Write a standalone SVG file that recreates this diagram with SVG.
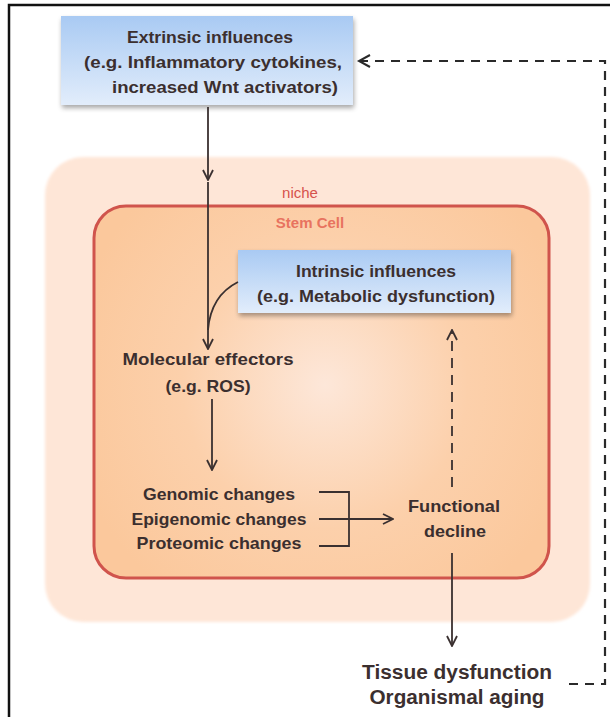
<svg xmlns="http://www.w3.org/2000/svg" width="610" height="717" viewBox="0 0 610 717">
<defs>
<linearGradient id="blue" x1="0" y1="0" x2="0" y2="1">
<stop offset="0" stop-color="#a9caf3"/>
<stop offset="1" stop-color="#e2edfb"/>
</linearGradient>
<radialGradient id="cell" cx="325" cy="385" r="260" gradientUnits="userSpaceOnUse">
<stop offset="0" stop-color="#fde7d9"/>
<stop offset="0.55" stop-color="#fcd0ab"/>
<stop offset="1" stop-color="#fbc89c"/>
</radialGradient>
<filter id="sh" x="-10%" y="-10%" width="130%" height="140%">
<feGaussianBlur in="SourceAlpha" stdDeviation="2.5"/>
<feOffset dx="1" dy="3"/>
<feComponentTransfer><feFuncA type="linear" slope="0.35"/></feComponentTransfer>
<feMerge><feMergeNode/><feMergeNode in="SourceGraphic"/></feMerge>
</filter>
<filter id="soft"><feGaussianBlur stdDeviation="1.5"/></filter>
<marker id="ah" viewBox="0 0 12 12" refX="11" refY="6" markerWidth="12" markerHeight="12" markerUnits="userSpaceOnUse" orient="auto">
<path d="M1,1 L11,6 L1,11" fill="none" stroke="#3a3030" stroke-width="1.8"/>
</marker>
</defs>
<style>
text{font-family:"Liberation Sans",Arial,sans-serif;font-weight:bold;fill:#3b2f2f;text-anchor:middle}
.t{font-size:16.5px}
.big{font-size:20px}
.red{fill:#d6524c;font-size:15px;font-weight:normal}
.salmon{fill:#e8735f;font-size:15px}
.ln{fill:none;stroke:#3a3030;stroke-width:1.8}
.dash{fill:none;stroke:#2a2a2a;stroke-width:2.2;stroke-dasharray:9,7}
</style>
<rect width="610" height="717" fill="#ffffff"/>
<path d="M9,717 L9,5 L610,5" fill="none" stroke="#111" stroke-width="2.5"/>

<g id="niche">
<rect x="45" y="157" width="545" height="465" rx="38" fill="#fee6d7" filter="url(#soft)"/>
<text class="red" x="300" y="198">niche</text>
</g>

<g id="stemcell">
<rect x="94" y="206" width="455" height="372" rx="32" fill="url(#cell)" stroke="#d0544c" stroke-width="3"/>
<text class="salmon" x="310" y="228">Stem Cell</text>
</g>

<g id="extrinsic">
<rect x="61" y="16" width="292" height="89" fill="url(#blue)" filter="url(#sh)"/>
<text class="t" x="210" y="43" textLength="166" lengthAdjust="spacingAndGlyphs">Extrinsic influences</text>
<text class="t" x="213" y="68" textLength="258" lengthAdjust="spacingAndGlyphs">(e.g. Inflammatory cytokines,</text>
<text class="t" x="225" y="93" textLength="226" lengthAdjust="spacingAndGlyphs">increased Wnt activators)</text>
</g>

<g id="intrinsic">
<rect x="238" y="250" width="273" height="63" fill="url(#blue)" filter="url(#sh)"/>
<text class="t" x="376" y="277" textLength="160" lengthAdjust="spacingAndGlyphs">Intrinsic influences</text>
<text class="t" x="376" y="302" textLength="238" lengthAdjust="spacingAndGlyphs">(e.g. Metabolic dysfunction)</text>
</g>

<g id="molecular">
<text class="t" x="208" y="365" textLength="171" lengthAdjust="spacingAndGlyphs">Molecular effectors</text>
<text class="t" x="208" y="392" textLength="85" lengthAdjust="spacingAndGlyphs">(e.g. ROS)</text>
</g>

<g id="changes">
<text class="t" x="219" y="500" textLength="152" lengthAdjust="spacingAndGlyphs">Genomic changes</text>
<text class="t" x="219" y="525" textLength="175" lengthAdjust="spacingAndGlyphs">Epigenomic changes</text>
<text class="t" x="219" y="549" textLength="165" lengthAdjust="spacingAndGlyphs">Proteomic changes</text>
</g>

<g id="functional">
<text class="t" x="454" y="512" textLength="92" lengthAdjust="spacingAndGlyphs">Functional</text>
<text class="t" x="455" y="537" textLength="62" lengthAdjust="spacingAndGlyphs">decline</text>
</g>

<g id="tissue">
<text class="big" x="457" y="679" textLength="190" lengthAdjust="spacingAndGlyphs">Tissue dysfunction</text>
<text class="big" x="457" y="704" textLength="175" lengthAdjust="spacingAndGlyphs">Organismal aging</text>
</g>

<g id="connectors">
<line class="ln" x1="208" y1="107" x2="208" y2="180" marker-end="url(#ah)"/>
<line class="ln" x1="208" y1="182" x2="208" y2="349" marker-end="url(#ah)"/>
<path class="ln" d="M238,282 C222,290 210,305 208,330"/>
<line class="ln" x1="212" y1="399" x2="212" y2="470" marker-end="url(#ah)"/>
<path class="ln" d="M319,492 L349,492 L349,546 L319,546"/>
<line class="ln" x1="319" y1="519" x2="393" y2="519" marker-end="url(#ah)"/>
<line class="ln" x1="452" y1="487" x2="452" y2="330" stroke-dasharray="10,7" marker-end="url(#ah)"/>
<line class="ln" x1="452" y1="553" x2="452" y2="646" marker-end="url(#ah)"/>
<path class="dash" d="M569,684 L605,684 L605,61 L360,61"/>
<path d="M370,55 L359,61 L370,67" fill="none" stroke="#2a2a2a" stroke-width="2"/>
</g>
</svg>
